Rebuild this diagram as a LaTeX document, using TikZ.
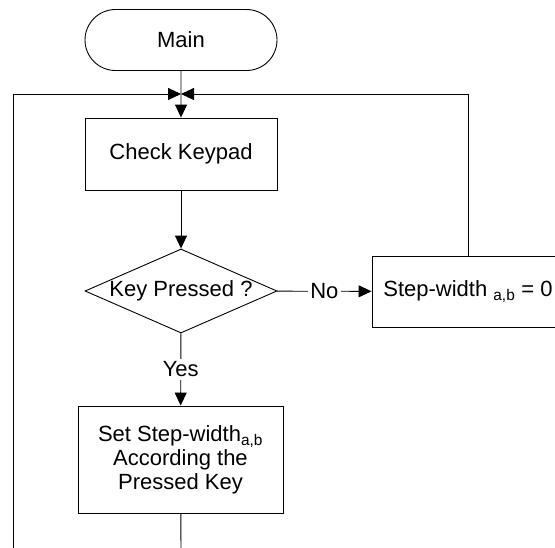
\documentclass[tikz,border=0pt]{standalone}
\usepackage{fontspec}
\setmainfont{Liberation Sans}
\usetikzlibrary{positioning}
\usetikzlibrary{arrows.meta,shapes}
\tikzstyle{terminal}=[rounded rectangle,draw,minimum width=192pt,minimum height=61pt,inner sep=0pt]
\tikzstyle{process}=[rectangle,draw,minimum width=192pt,minimum height=72pt,inner sep=0pt,align=center]
\tikzstyle{decision}=[diamond,draw,aspect=2.3,minimum width=192pt,minimum height=84pt,inner sep=0pt]
\tikzstyle{answer} = [fill=white,inner sep=2.5pt]

\begin{document}
\begin{tikzpicture}[x=1pt,y=-1pt, line width=0.9pt, >={Triangle[length=13pt,width=12pt]}, font=\fontsize{22}{24}\selectfont]

   \clip (0,0) rectangle (555,547);
   \useasboundingbox (0,0) rectangle (555,547);

   \node[terminal] (main) at (181,40) {Main};
   \node[process] (check) at (181,154) {Check Keypad};
   \node[decision] (key) at (181,291) {Key Pressed ?};
   \node[process,minimum height=71pt] (zero) at (468,291.5) {Step-width \textsubscript{a,b} = 0};
   \node[process,minimum width=205pt,minimum height=107pt] (set) at (180.5,459.5) {Set Step-width\textsubscript{a,b}\\According the\\Pressed Key};

   \coordinate (join) at (181,94);
   \coordinate (loopend) at (13,550);
   \coordinate (setend) at (181,550);

    \foreach \source/\dest in {main/check, check/key}
        \draw[->] (\source) -- (\dest);

   \draw[->] (key) -- node[answer]{No} (zero);
   \draw[->] (key) -- node[answer]{Yes} (set);

   % loop back to the top
   \draw[->] (zero.north) |- (join);
   \draw[->] (loopend) |- (join);
   \draw (set) -- (setend);

\end{tikzpicture}
\end{document}
